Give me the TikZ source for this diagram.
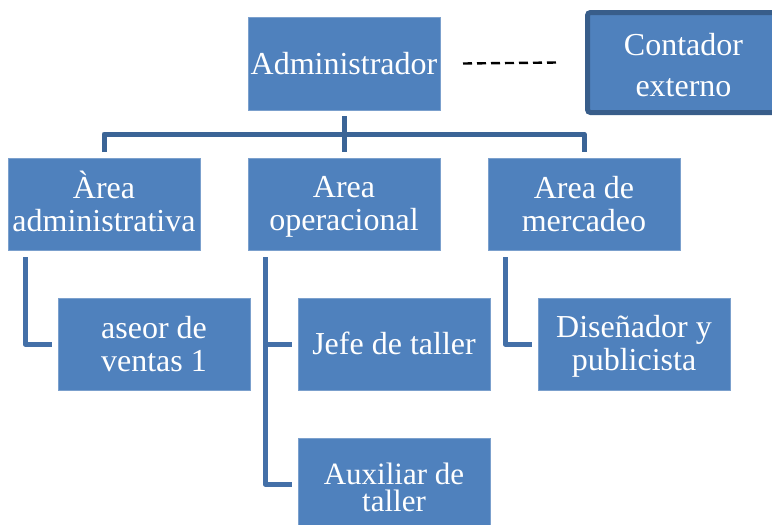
\documentclass[tikz,border=0pt]{standalone}
\usepackage{fontspec}
\setmainfont{Liberation Serif}
\usepackage{tikz}
\usetikzlibrary{positioning}

\definecolor{azul}{RGB}{79,129,189}
\definecolor{azulborde}{RGB}{56,93,138}
\definecolor{azulbarra}{RGB}{59,100,150}
\definecolor{azulrama}{RGB}{68,112,168}

% alturas fijas de la primera y la ultima linea
\newcommand{\arr}[1][27pt]{\rule{0pt}{#1}}
\newcommand{\abj}[1][6pt]{\rule[-#1]{0pt}{0pt}}

\begin{document}
\begin{tikzpicture}[x=1pt, y=-1pt, on grid,
    caja/.style={rectangle, fill=azul, draw=white!25!azul, line width=0.7pt,
        minimum width=192pt, minimum height=92pt, inner sep=0pt, outer sep=0pt,
        text=white, align=center, font=\fontsize{32pt}{33pt}\selectfont},
    contorno/.style={draw=azulborde, line width=5pt, rounded corners=3pt},
    barra/.style={draw=azulbarra, line width=5pt, line join=round},
    rama/.style={draw=azulrama, line width=5pt, line join=round},
    guion/.style={draw=black, line width=2.4pt, dash pattern=on 9pt off 5pt}]

    \useasboundingbox (0,0) rectangle (772,525);
    \clip (0,0) rectangle (772,525);

    \node[caja, minimum height=93pt] (admin) at (344,63.5) {\arr Administrador\abj};
    \node[caja, right=339.5pt of admin, yshift=1pt, minimum height=100pt, draw=none,
        font=\fontsize{32pt}{41pt}\selectfont] (cont) {\arr[32pt]Contador\\externo\abj};
    \draw[contorno] ([xshift=20pt]cont.north east) -- (cont.north west)
        -- (cont.south west) -- ([xshift=20pt]cont.south east);

    \node[caja, below=140.5pt of admin] (ope) {\arr Area\\operacional\abj};
    \node[caja, left=240pt of ope] (adm) {\arr Àrea\\administrativa\abj};
    \node[caja, right=240pt of ope] (mer) {\arr Area de\\mercadeo\abj};

    \node[caja, below right=140pt and 50pt of adm] (ven) {\arr aseor de\\ventas 1\abj};
    \node[caja, below right=140pt and 50pt of ope] (jefe) {\arr Jefe de taller\abj};
    \node[caja, below=140pt of jefe, font=\fontsize{31pt}{27pt}\selectfont] (aux)
        {\arr[30pt]Auxiliar de\\taller\abj[3pt]};
    \node[caja, below right=140pt and 50pt of mer] (dis) {\arr Diseñador y\\publicista\abj};

    \draw[guion] ([xshift=23pt]admin.east) -- ([xshift=-30pt]cont.west);

    \draw[barra] ([yshift=-6pt]admin.south) -- ([yshift=6pt]ope.north);
    \draw[barra] ([yshift=6pt]adm.north) |- ([yshift=24pt]mer.north)
        -- ([yshift=6pt]mer.north);

    \draw[rama] ([xshift=17pt, yshift=-7pt]adm.south west) |- ([xshift=-6pt]ven.west);
    \draw[rama] ([xshift=17pt, yshift=-7pt]ope.south west) |- ([xshift=-6pt]aux.west);
    \draw[rama] ([xshift=17pt, yshift=-7pt]ope.south west) |- ([xshift=-6pt]jefe.west);
    \draw[rama] ([xshift=17pt, yshift=-7pt]mer.south west) |- ([xshift=-6pt]dis.west);

\end{tikzpicture}
\end{document}
